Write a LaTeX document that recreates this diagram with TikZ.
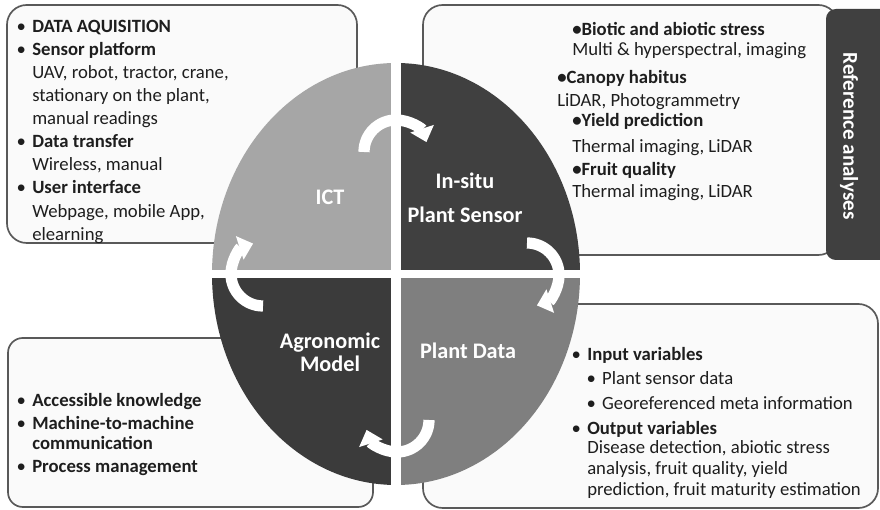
\documentclass[tikz,border=0pt]{standalone}
\usepackage{fontspec}
\setmainfont{Carlito}
\usetikzlibrary{arrows.meta}
\definecolor{boxline}{HTML}{595959}
\definecolor{boxfill}{HTML}{FAFAFA}
\definecolor{ictgray}{HTML}{A6A6A6}
\definecolor{sensorgray}{HTML}{404040}
\definecolor{modelgray}{HTML}{3B3B3B}
\definecolor{datagray}{HTML}{7F7F7F}
\definecolor{txtgray}{HTML}{1E1E1E}
\newcommand{\headitem}[1]{\llap{\textbullet\hspace{4.5pt}}\textbf{#1}}
\newcommand{\subitemline}[1]{\hspace*{10.6pt}\llap{\textbullet\hspace{4.5pt}}#1}

\begin{document}
\begin{tikzpicture}[x=0.025cm,y=0.025cm,
        infobox/.style={draw=boxline,line width=1.2pt,fill=boxfill,rounded corners=14pt},
        boxtext/.style={anchor=north west,align=left,inner sep=0pt,text=txtgray,font=\fontsize{13.3pt}{16.4pt}\selectfont},
        quarter/.style={font=\fontsize{15.8pt}{16.5pt}\selectfont\bfseries,text=white,align=center},
        cyclearrow/.style={white,line width=8pt,-{Triangle[width=17pt,length=10pt]}}]
    \useasboundingbox (0,0) rectangle (880,510);
    \clip (0,0) rectangle (880,510);
    \draw[infobox] (7,267) rectangle (357,505);
    \draw[infobox] (423,255) rectangle (838,505);
    \draw[infobox,rounded corners=10.5pt] (8,3) rectangle (373,172);
    \draw[infobox] (423,2) rectangle (878,206);
    \fill[sensorgray,rounded corners=7pt] (826,250) rectangle (900,501);
    \coordinate (mid) at (396,236);
    \begin{scope}
        \clip (mid) ellipse [x radius=184,y radius=211];
        \fill[ictgray] (mid) rectangle (200,460);
        \fill[sensorgray] (mid) rectangle (600,460);
        \fill[modelgray] (mid) rectangle (200,10);
        \fill[datagray] (mid) rectangle (600,10);
    \end{scope}
    \draw[white,line width=7.5pt] (396,15) -- (396,457);
    \draw[white,line width=5.8pt] (200,236) -- (600,236);
    \coordinate (ta) at (396,358);
    \coordinate (ra) at (527,235);
    \coordinate (ba) at (397,90);
    \coordinate (la) at (263,236);
    \foreach \c/\a in {ta/180,ra/90,ba/0,la/270}
        \draw[cyclearrow] ([shift={(\a:32)}]\c) arc[start angle=\a,delta angle=-162,radius=32];
    \node[quarter] (ict) at (330,313) {ICT};
    \node[quarter] (insitu) at (465,312) {In-situ\\[7.5pt]Plant Sensor};
    \node[quarter] (agro) at (330,158) {Agronomic\\Model};
    \node[quarter] (pdata) at (468,159) {Plant Data};
    \node[rotate=-90,font=\fontsize{15pt}{18pt}\selectfont\bfseries,text=white] (ref) at (849,374) {Reference analyses};
    \node[boxtext] (acq) at (32,490) {\headitem{DATA AQUISITION}\\ \headitem{Sensor platform}\\ UAV, robot, tractor, crane,\\ stationary on the plant,\\ manual readings\\ \headitem{Data transfer}\\ Wireless, manual\\ \headitem{User interface}\\ Webpage, mobile App,\\ elearning};
    \node[boxtext] (stress) at (572,488) {\textbf{\textbullet Biotic and abiotic stress}\\[-2pt] Multi \& hyperspectral, imaging};
    \node[boxtext] (canopy) at (557,440) {\textbf{\textbullet Canopy habitus}\\ LiDAR, Photogrammetry};
    \node[boxtext] (yield) at (572,397) {\textbf{\textbullet Yield prediction}\\[2pt] Thermal imaging, LiDAR};
    \node[boxtext] (fruit) at (572,348) {\textbf{\textbullet Fruit quality}\\[-1pt] Thermal imaging, LiDAR};
    \node[boxtext] (knowledge) at (32,117) {\headitem{Accessible knowledge}\\ \headitem{Machine-to-machine}\\[-2pt] \textbf{communication}\\ \headitem{Process management}};
    \node[boxtext,font=\fontsize{13.3pt}{15pt}\selectfont] (vars) at (587,163) {\headitem{Input variables}\\[2.3pt] \subitemline{Plant sensor data}\\[2.6pt] \subitemline{Georeferenced meta information}\\[2.6pt] \headitem{Output variables}\\[-1.5pt] Disease detection, abiotic stress\\ analysis, fruit quality, yield\\ prediction, fruit maturity estimation};
\end{tikzpicture}
\end{document}
